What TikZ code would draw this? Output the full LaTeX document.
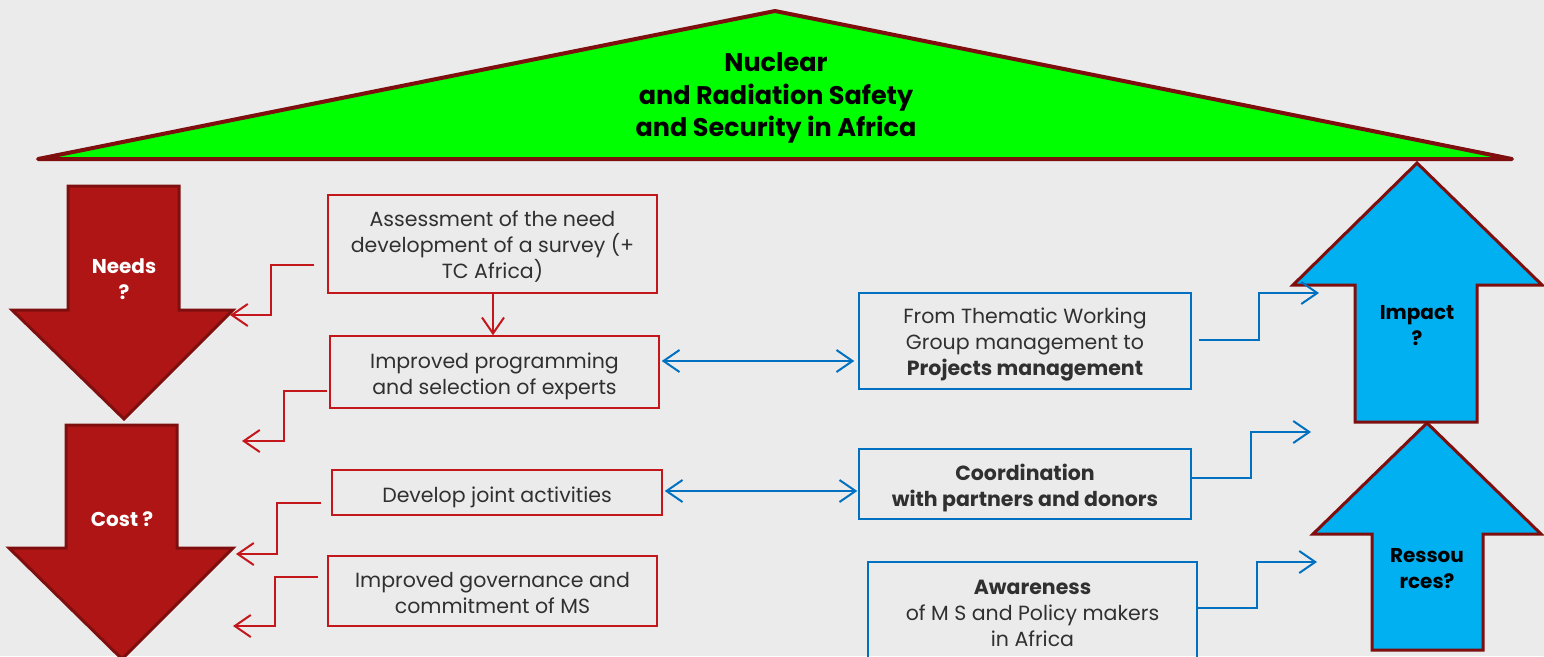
\documentclass[tikz,border=0pt]{standalone}
\usepackage{fontspec}
\setmainfont{Poppins}
\usetikzlibrary{arrows.meta,calc}
\definecolor{bgc}{HTML}{EBEBEB}
\definecolor{roofgreen}{HTML}{00FF00}
\definecolor{darkrim}{HTML}{7F0F0F}
\definecolor{arrowred}{HTML}{AF1515}
\definecolor{arrowcyan}{HTML}{00B0F0}
\definecolor{boxred}{HTML}{C3171C}
\definecolor{boxblue}{HTML}{0070C0}
\definecolor{txtc}{HTML}{303030}
\begin{document}
\begin{tikzpicture}[x=1pt,y=-1pt,
  boxtext/.style={align=center, text=txtc, inner sep=0pt,
    font=\fontsize{20.5}{26}\selectfont},
  redbox/.style={draw=boxred, line width=1.5pt, inner sep=0pt},
  bluebox/.style={draw=boxblue, line width=1.5pt, inner sep=0pt},
  roof/.style={draw=darkrim, line width=4pt, fill=roofgreen, line join=round},
  downarrow/.style={draw=darkrim, line width=3pt, fill=arrowred, line join=miter},
  uparrow/.style={draw=darkrim, line width=3pt, fill=arrowcyan, line join=miter},
  titletext/.style={align=center, font=\fontsize{25.5}{32.5}\selectfont\bfseries, text=black},
  wlabel/.style={align=center, font=\fontsize{20}{26}\selectfont\bfseries, text=white},
  klabel/.style={align=center, font=\fontsize{20}{26}\selectfont\bfseries, text=black},
  redlink/.style={draw=boxred, line width=2pt, -{Straight Barb[length=16pt,width=22pt]}},
  bluelink/.style={draw=boxblue, line width=2pt, -{Straight Barb[length=16pt,width=22pt]}},
  bluedbl/.style={draw=boxblue, line width=2pt, {Straight Barb[length=16pt,width=22pt]}-{Straight Barb[length=16pt,width=22pt]}}
]
\useasboundingbox (0,0) rectangle (1544,656);
\fill[bgc] (0,0) rectangle (1544,656);
\clip (0,0) rectangle (1544,656);

% roof
\draw[roof] (38,159) -- (775,11) -- (1512,159) -- cycle;
\node[titletext] (title) at (776,98) {Nuclear\\and Radiation Safety\\and Security in Africa};

% red down arrows
\draw[downarrow] (68,186) -- (179,186) -- (179,310) -- (233,310) -- (124,419) -- (12,310) -- (68,310) -- cycle;
\node[wlabel] (needs) at (124,279) {Needs\\?};
\draw[downarrow] (66,425) -- (177,425) -- (177,548) -- (233,548) -- (122,659) -- (9,548) -- (66,548) -- cycle;
\node[wlabel] (cost) at (122,519) {Cost ?};

% blue up arrows
\draw[uparrow] (1417,163) -- (1542,285) -- (1477,285) -- (1477,422) -- (1355,422) -- (1355,285) -- (1293,285) -- cycle;
\node[klabel] (impact) at (1417,326) {Impact\\?};
\draw[uparrow] (1427,423) -- (1541,534) -- (1483,534) -- (1483,650) -- (1372,650) -- (1372,534) -- (1313,534) -- cycle;
\node[klabel] (res) at (1427,569) {Ressou\\rces?};

% red boxes
\node[redbox, minimum width=329, minimum height=98] (assess) at (492.5,244) {};
\node[boxtext] (assesstext) at (492.5,247)
  {Assessment of the need\\development of a survey (+\\TC Africa)};
\node[redbox, minimum width=329, minimum height=72] (prog) at (494.5,372) {};
\node[boxtext] (progtext) at (494.5,376)
  {Improved programming\\and selection of experts};
\node[redbox, minimum width=330, minimum height=45] (joint) at (497,492.5) {};
\node[boxtext] (jointtext) at (497,497.5)
  {Develop joint activities};
\node[redbox, minimum width=329, minimum height=70] (gov) at (492.5,591) {};
\node[boxtext] (govtext) at (492.5,593)
  {Improved governance and\\commitment of MS};

% blue boxes
\node[bluebox, minimum width=332, minimum height=96] (twg) at (1025,341) {};
\node[boxtext] (twgtext) at (1025,345)
  {From Thematic Working\\Group management to\\\textbf{Projects management}};
\node[bluebox, minimum width=332, minimum height=70] (coord) at (1025,484) {};
\node[boxtext] (coordtext) at (1025,488)
  {\textbf{Coordination}\\\textbf{with partners and donors}};
\node[bluebox, minimum width=329, minimum height=130] (aware) at (1032.5,627) {};
\node[boxtext] (awaretext) at (1032.5,613.5)
  {\textbf{Awareness}\\of M S and Policy makers\\in Africa};

% free ends of connectors
\coordinate (t1) at (230,315);
\coordinate (t2) at (242,441);
\coordinate (t3) at (236,554);
\coordinate (t4) at (233,626);
\coordinate (u1) at (1319,293);
\coordinate (u2) at (1311,432);
\coordinate (u3) at (1317,562);

% red connectors
\draw[redlink] (assess.south -| 493,0) -- (prog.north -| 493,0);
\draw[redlink] ($(assess.west)+(-13,21)$) -| (271,315) -- (t1);
\draw[redlink] ($(prog.west)+(-2,19)$) -| (284,441) -- (t2);
\draw[redlink] ($(joint.west)+(-10,10.5)$) -| (277,554) -- (t3);
\draw[redlink] ($(gov.west)+(-9,-14)$) -| (275,626) -- (t4);

% blue double arrows
\draw[bluedbl] ($(prog.east)+(2,-11)$) -- ($(twg.west)+(-4,20)$);
\draw[bluedbl] ($(joint.east)+(2,-1.5)$) -- ($(coord.west)+(-1,7)$);

% blue connectors
\draw[bluelink] ($(twg.east)+(7,-1)$) -| (1259,293) -- (u1);
\draw[bluelink] ($(coord.east)+(0,-6)$) -| (1251,432) -- (u2);
\draw[bluelink] ($(aware.east)+(0,-19)$) -| (1257,562) -- (u3);
\end{tikzpicture}
\end{document}
